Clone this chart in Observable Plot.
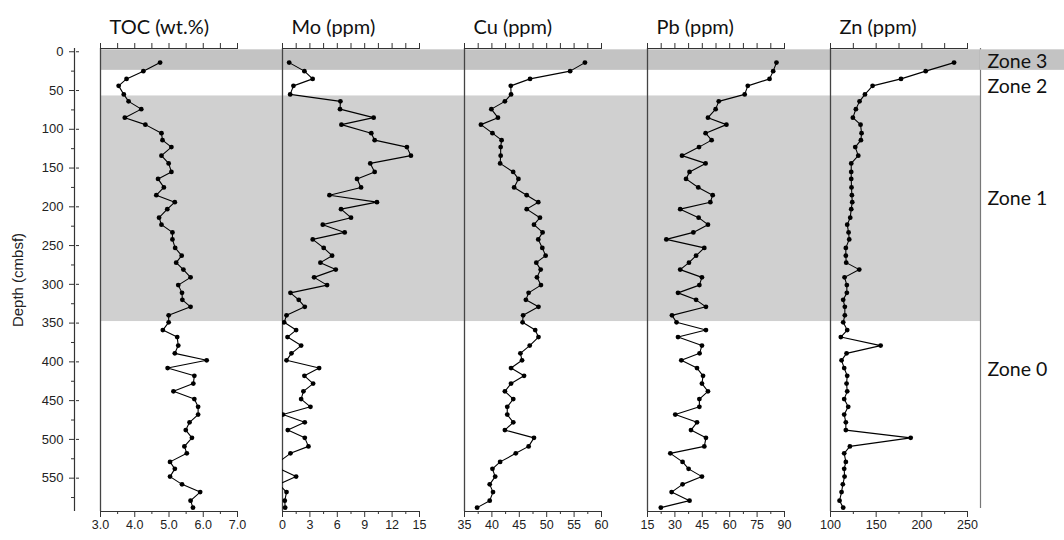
<!DOCTYPE html>
<html><head><meta charset="utf-8">
<script src="https://cdn.jsdelivr.net/npm/d3@7"></script>
<script src="https://cdn.jsdelivr.net/npm/@observablehq/plot@0.6"></script>
<style>
body{margin:0;background:#fff;}
#chart{position:relative;width:1064px;height:540px;background:#fff;}
#chart svg{position:absolute;left:0;top:0;overflow:visible;}
</style></head><body><div id="chart"></div>
<script>
// ---- data ----
const depth = [14,25,35,44,55,64,74,85,94,105,114,123,134,144,155,164,175,185,194,203,214,223,233,242,253,263,272,281,291,301,311,320,329,340,349,359,368,379,389,398,408,418,428,438,448,458,468,478,488,498,509,518,529,538,548,558,568,579,588];
const toc = [4.74,4.25,3.76,3.53,3.68,3.82,4.19,3.71,4.31,4.78,4.81,5.07,4.78,4.99,5.07,4.68,4.85,4.63,5.17,4.95,4.71,4.78,5.10,5.10,5.18,5.37,5.21,5.42,5.63,5.27,5.38,5.39,5.63,4.99,4.99,4.82,5.24,5.27,5.17,6.10,4.96,5.74,5.71,5.13,5.74,5.85,5.85,5.60,5.49,5.67,5.45,5.52,5.03,5.17,5.03,5.38,5.91,5.63,5.70];
const mo = [0.73,2.4,3.3,1.2,0.84,6.34,6.3,9.98,6.45,9.72,10.09,13.62,14.06,9.61,10.09,8.16,8.6,5.14,10.34,6.41,7.5,4.41,6.81,3.31,4.51,5.43,4.15,5.83,3.46,4.88,0.87,1.78,2.44,0.44,0.18,1.49,0.55,2.04,0.98,0.44,4.01,2.4,3.35,2.29,2.04,3.06,0.04,2.44,0.58,2.44,2.84,0.87,-0.4,-0.3,1.49,-0.4,0.44,0.25,0.29];
const cu = [56.98,54.27,46.96,43.45,43.5,42.37,39.9,41.1,38.0,40.1,41.77,41.6,41.6,41.5,43.88,44.84,44.06,46.35,48.46,46.35,48.77,47.68,49.25,48.46,49.2,49.8,48.1,48.9,48.22,48.95,46.7,46.2,48.5,45.7,45.6,47.9,48.5,46.9,45.2,45.5,43.5,45.87,43.5,42.37,43.9,42.8,42.8,43.9,42.37,47.68,46.7,44.36,41.5,40.1,40.6,39.6,40.2,39.6,37.3];
const pb = [85.6,83.8,81.8,69.9,68.2,54.0,52.3,48.1,58.2,46.8,50.1,43.2,33.9,46.8,38.0,36.1,42.8,50.7,49.4,32.9,43.0,48.1,40.1,25.3,46.1,41.6,37.7,32.9,44.8,43.4,31.7,41.6,47.0,28.4,30.9,47.0,31.7,44.8,43.5,33.5,42.1,45.4,44.8,48.1,43.4,43.4,30.2,42.1,38.8,47.0,46.1,27.5,34.2,37.5,44.8,34.2,28.2,38.0,22.3];
const zn = [235.3,204.2,177.2,146.1,137.7,131.8,127.8,124.5,132.9,134.0,133.3,127.1,130.4,122.7,122.7,122.7,123.0,123.4,123.8,122.7,121.6,118.3,119.8,120.5,116.8,116.8,117.2,131.5,115.4,117.9,117.9,113.9,115.7,115.7,113.9,118.3,111.3,154.9,117.6,112.1,115.0,118.3,117.6,118.3,115.0,119.4,115.0,116.8,116.8,187.8,121.2,115.0,116.8,115.0,115.4,113.5,112.1,109.9,113.9];

const zoneNames = ["Zone 3","Zone 2","Zone 1","Zone 0"];
const zoneTop = [-2.5,24,57,348];
const zoneBottom = [24,57,348,593];
const zoneLabelDepth = [13,45,190,410];

const panelTitles = ["TOC (wt.%)","Mo (ppm)","Cu (ppm)","Pb (ppm)","Zn (ppm)"];
const panelSeries = [toc, mo, cu, pb, zn];
const panelDomains = [[3,7],[0,15],[35,60],[15,90],[100,250]];
const panelLabelTicks = [[3,4,5,6,7],[0,3,6,9,12,15],[35,40,45,50,55,60],[15,30,45,60,75,90],[100,150,200,250]];
const panelMinorStep = [0.5,1.5,2.5,7.5,25];
const depthTicks = [0,50,100,150,200,250,300,350,400,450,500,550];
const depthMinorTicks = [25,75,125,175,225,275,325,375,425,475,525,575];
const depthLabel = "Depth (cmbsf)";

// ---- layout / style ----
const W = 1064, H = 540, MT = 48, MB = 29;
const yDom = [-4.2, 593];
const panelLeft = [100, 282, 464, 647, 830];
const panelWidth = 137;
const zoneFill = {"Zone 3": "#c3c3c3", "Zone 1": "#d0d0d0"};
const chart = document.getElementById("chart");
const titleFont = "Lato, 'Open Sans', sans-serif";
const tickFont = "'Liberation Sans', Arial, sans-serif";

const zones = zoneNames.map((name, i) => ({name, top: zoneTop[i], bottom: zoneBottom[i], labelDepth: zoneLabelDepth[i]}));

function layer(opts) {
  const svg = Plot.plot({
    width: W, height: H, marginTop: MT, marginBottom: MB,
    y: {domain: yDom, reverse: true, axis: null},
    color: {type: "identity"},
    style: {background: "transparent", overflow: "visible", fontFamily: tickFont, fontSize: "12px", color: "#222"},
    ...opts
  });
  chart.append(svg);
}

// background bands + right line
const lastRight = panelLeft[4] + panelWidth + 13;
layer({
  marginLeft: panelLeft[0], marginRight: W - lastRight,
  x: {domain: [0, 1], axis: null},
  marks: [
    Plot.rect(zones.filter(z => zoneFill[z.name]), {y1: "top", y2: "bottom", fill: d => zoneFill[d.name]}),
    Plot.ruleX([1], {y1: yDom[0], y2: 589, stroke: "#777", strokeWidth: 1.2})
  ]
});

// zone labels column
layer({
  marginLeft: lastRight, marginRight: 0,
  x: {domain: [0, 1], axis: null},
  marks: [
    Plot.rect(zones.filter(z => z.name === "Zone 3"), {y1: "top", y2: "bottom", fill: d => zoneFill[d.name]}),
    Plot.text(zones, {y: "labelDepth", text: "name", frameAnchor: "left", textAnchor: "start", dx: 7, fontSize: 19.5, fontFamily: titleFont, fill: "#111"})
  ]
});

// depth axis
layer({
  marginLeft: 74, marginRight: W - 75,
  x: {domain: [0, 1], axis: null},
  marks: [
    Plot.ruleX([0], {stroke: "#333", strokeWidth: 1.2}),
    Plot.axisY({ticks: depthTicks, anchor: "left", label: null, tickSize: 5, tickPadding: 6, fontSize: 13, fill: "#222", stroke: "#333"}),
    Plot.axisY({ticks: depthTicks, anchor: "right", label: null, tickSize: 3, tickFormat: () => "", stroke: "#333"}),
    Plot.axisY({ticks: depthMinorTicks, anchor: "left", label: null, tickSize: 3, tickFormat: () => "", stroke: "#333"}),
    Plot.text([depthLabel], {text: d => d, frameAnchor: "left", textAnchor: "middle", dx: -56, rotate: -90, fontSize: 15, fill: "#222"})
  ]
});

// panels
panelTitles.forEach((title, i) => {
  const dom = panelDomains[i];
  const step = panelMinorStep[i];
  const allTicks = d3.range(0, Math.round((dom[1] - dom[0]) / step) + 1).map(k => dom[0] + k * step);
  const majors = panelLabelTicks[i];
  const minors = allTicks.filter(t => !majors.some(m => Math.abs(m - t) < 1e-9));
  const data = depth.map((d, j) => ({d, v: panelSeries[i][j]}));
  const fmt = i === 0 ? d3.format(".1f") : d3.format("d");
  const clip = i === 1;
  layer({
    marginLeft: panelLeft[i], marginRight: W - panelLeft[i] - panelWidth,
    x: {domain: dom, axis: null},
    marks: [
      Plot.ruleX([dom[0]], {stroke: "#444", strokeWidth: 1.3}),
      Plot.ruleY([yDom[0]], {stroke: "#333"}),
      Plot.ruleY([yDom[1]], {stroke: "#333"}),
      Plot.axisX({ticks: allTicks, anchor: "top", label: null, tickSize: 6, tickFormat: () => "", stroke: "#333"}),
      Plot.axisX({ticks: majors, anchor: "bottom", label: null, tickSize: 6, tickPadding: 3, tickFormat: fmt, fontSize: 12.5, fill: "#222", stroke: "#333"}),
      Plot.axisX({ticks: minors, anchor: "bottom", label: null, tickSize: 3, tickFormat: () => "", stroke: "#333"}),
      Plot.line(data, {x: "v", y: "d", stroke: "#000", strokeWidth: 1.1, clip}),
      Plot.dot(data, {x: "v", y: "d", r: 2.4, fill: "#000", clip}),
      Plot.text([title], {text: d => d, frameAnchor: "top-left", textAnchor: "start", dx: 9, dy: -29, fontSize: 20, fontFamily: titleFont, fill: "#111"})
    ]
  });
});
</script></body></html>
